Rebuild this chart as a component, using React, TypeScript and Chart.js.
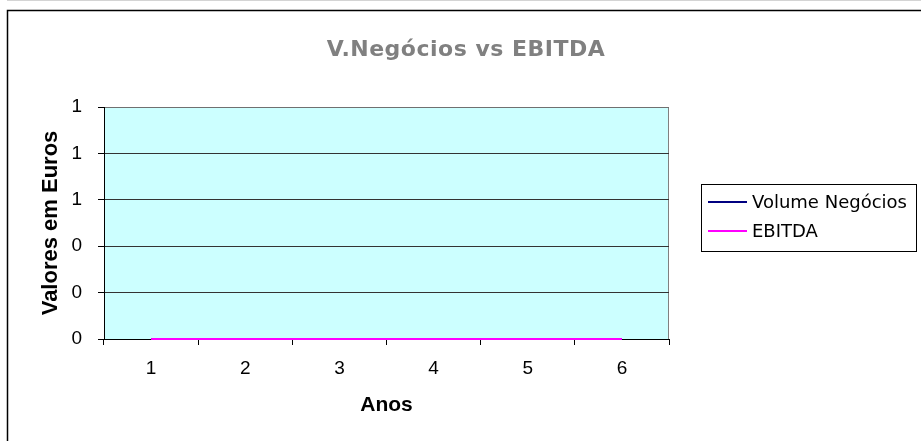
import React, { useEffect, useRef } from "react";
import { Chart, registerables } from "chart.js";

Chart.register(...registerables);

// ---- data ----
const categories = ["1", "2", "3", "4", "5", "6"];
const volumeNegocios = [0, 0, 0, 0, 0, 0];
const ebitda = [0, 0, 0, 0, 0, 0];
const yTickLabels = ["0", "0", "0", "1", "1", "1"];
const seriesNames = ["Volume Negócios", "EBITDA"];
const seriesColors = ["#000080", "#FF00FF"];
const chartTitle = "V.Negócios vs EBITDA";
const yAxisTitle = "Valores em Euros";
const xAxisTitle = "Anos";

const W = 921;
const H = 441;

const decorPlugin = {
  id: "decor",
  beforeDraw(chart: any) {
    const { ctx, chartArea: a } = chart;
    ctx.save();
    ctx.fillStyle = "#ffffff";
    ctx.fillRect(0, 0, chart.width, chart.height);
    // faint top line
    ctx.strokeStyle = "#d4d4d4";
    ctx.lineWidth = 1;
    ctx.beginPath();
    ctx.moveTo(7, 0.5);
    ctx.lineTo(chart.width, 0.5);
    ctx.stroke();
    // outer chart border (left & top visible)
    ctx.strokeStyle = "#000000";
    ctx.lineWidth = 1.5;
    ctx.beginPath();
    ctx.moveTo(7.5, chart.height + 2);
    ctx.lineTo(7.5, 10.5);
    ctx.lineTo(chart.width + 2, 10.5);
    ctx.stroke();
    // plot area
    ctx.fillStyle = "#CCFFFF";
    ctx.fillRect(a.left, a.top, a.right - a.left, a.bottom - a.top);
    ctx.strokeStyle = "#808080";
    ctx.lineWidth = 1;
    ctx.strokeRect(a.left + 0.5, a.top + 0.5, a.right - a.left - 1, a.bottom - a.top);
    ctx.restore();
  },
  afterDraw(chart: any) {
    const { ctx } = chart;
    ctx.save();
    // title
    ctx.fillStyle = "#808080";
    ctx.font = "bold 22px 'DejaVu Sans'";
    ctx.textAlign = "center";
    ctx.textBaseline = "middle";
    try {
      (ctx as any).letterSpacing = "0.5px";
    } catch (e) {}
    ctx.fillText(chartTitle, 466, 50);
    try {
      (ctx as any).letterSpacing = "0px";
    } catch (e) {}
    // legend
    const bx = 701.5, by = 184.5, bw = 215, bh = 67;
    ctx.strokeStyle = "#000000";
    ctx.lineWidth = 1;
    ctx.strokeRect(bx, by, bw, bh);
    const rows = [202, 231];
    ctx.font = "18px 'DejaVu Sans'";
    ctx.textAlign = "left";
    ctx.textBaseline = "middle";
    chart.data.datasets.forEach((ds: any, i: number) => {
      const y = rows[i];
      ctx.strokeStyle = ds.borderColor;
      ctx.lineWidth = 2;
      ctx.beginPath();
      ctx.moveTo(708, y);
      ctx.lineTo(747, y);
      ctx.stroke();
      ctx.fillStyle = "#000000";
      ctx.fillText(ds.label, 752, y + 1);
    });
    ctx.restore();
  },
};

export default function App() {
  const ref = useRef<HTMLCanvasElement | null>(null);

  useEffect(() => {
    if (!ref.current) return;
    const chart = new Chart(ref.current, {
      type: "line",
      data: {
        labels: categories,
        datasets: [
          {
            label: seriesNames[0],
            data: volumeNegocios,
            borderColor: seriesColors[0],
            backgroundColor: seriesColors[0],
            borderWidth: 2,
            pointRadius: 0,
            fill: false,
            clip: false as any,
            order: 1,
          },
          {
            label: seriesNames[1],
            data: ebitda,
            borderColor: seriesColors[1],
            backgroundColor: seriesColors[1],
            borderWidth: 2,
            pointRadius: 0,
            fill: false,
            clip: false as any,
            order: 0,
          },
        ],
      },
      options: {
        responsive: false,
        animation: false,
        devicePixelRatio: 1,
        layout: { padding: { left: 0, top: 107, right: 252, bottom: 0 } },
        plugins: {
          legend: { display: false },
          title: { display: false },
          tooltip: { enabled: false },
        },
        scales: {
          x: {
            type: "category",
            offset: true,
            afterFit: (s: any) => {
              s.height = 102;
            },
            grid: {
              display: true,
              offset: true,
              drawOnChartArea: false,
              drawTicks: true,
              tickLength: 6,
              color: "#000000",
              tickColor: "#000000",
            },
            border: { display: true, color: "#000000", width: 1 },
            ticks: {
              color: "#000000",
              padding: 12,
              font: { family: "'Liberation Sans'", size: 19 },
              maxRotation: 0,
            },
            title: {
              display: true,
              text: xAxisTitle,
              color: "#000000",
              font: { family: "'Liberation Sans'", size: 21, weight: "bold" },
              padding: { top: 0, bottom: 23 },
            },
          },
          y: {
            min: 0,
            max: 1,
            afterFit: (s: any) => {
              s.width = 104;
            },
            grid: {
              display: true,
              drawOnChartArea: true,
              drawTicks: true,
              tickLength: 6,
              color: (c: any) => (c.index === 5 ? "#707070" : "#333333"),
              tickColor: "#000000",
            },
            border: { display: true, color: "#000000", width: 1 },
            ticks: {
              stepSize: 0.2,
              color: "#000000",
              padding: 16,
              font: { family: "'Liberation Sans'", size: 19 },
              callback: (_v: any, i: number) => yTickLabels[i],
            },
            title: {
              display: true,
              text: yAxisTitle,
              color: "#000000",
              font: { family: "'Liberation Sans'", size: 22, weight: "bold" },
              padding: { top: 38, bottom: 0 },
            },
          },
        },
      },
      plugins: [decorPlugin],
    } as any);
    return () => chart.destroy();
  }, []);

  return (
    <div style={{ position: "fixed", left: 0, top: 0, width: W, height: H }}>
      <canvas ref={ref} width={W} height={H} style={{ display: "block", width: W, height: H }} />
    </div>
  );
}
